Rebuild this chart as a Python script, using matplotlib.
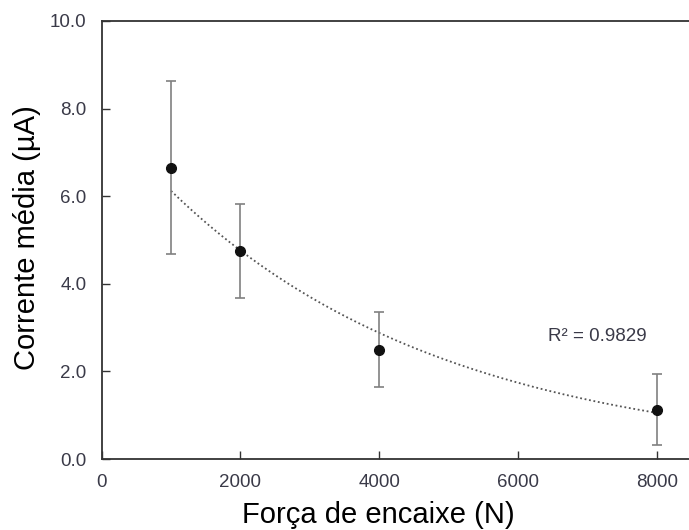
import numpy as np
import matplotlib
matplotlib.use("Agg")
import matplotlib.pyplot as plt

plt.rcParams['font.family'] = ['Liberation Sans', 'DejaVu Sans']

force = [1000, 2000, 4000, 8000]
current = [6.65, 4.75, 2.50, 1.12]
err_low = [4.68, 3.67, 1.65, 0.32]
err_high = [8.62, 5.83, 3.35, 1.93]
r2_label = "R² = 0.9829"
yticks = [0, 2, 4, 6, 8, 10]
xticks = [0, 2000, 4000, 6000, 8000]

x = np.array(force, dtype=float)
y = np.array(current)
lo = y - np.array(err_low)
hi = np.array(err_high) - y

# exponential trendline (least squares on log y)
b, lna = np.polyfit(x, np.log(y), 1)
xt = np.linspace(x.min(), x.max(), 200)
yt = np.exp(lna) * np.exp(b * xt)

W, H = 689, 530
fig = plt.figure(figsize=(W / 100, H / 100), dpi=100)
ax = fig.add_axes([101.7 / W, (H - 459) / H, (726 - 101.7) / W, (459 - 21) / H])

ax.plot(xt, yt, linestyle=(0, (1, 1.5)), color='#555555', linewidth=1.3, zorder=2)
ax.errorbar(x, y, yerr=[lo, hi], fmt='o', color='#111111', markersize=7,
            ecolor='#808080', elinewidth=1.2, capsize=3.5, capthick=1.2, zorder=3)

ax.set_xlim(0, 9000)
ax.set_ylim(0, 10)
ax.set_xticks(xticks)
ax.set_yticks(yticks)
ax.set_yticklabels([f"{v:.1f}" for v in yticks])
ax.tick_params(direction='in', length=6, width=1.0, labelsize=13.5,
               labelcolor='#3a3a48', color='#333333', pad=11)
for s in ax.spines.values():
    s.set_color('#333333')
    s.set_linewidth(1.3)
ax.spines['right'].set_visible(False)

fig.text(378.5 / W, (H - 523) / H, "Força de encaixe (N)", fontsize=21,
         color='black', ha='center', va='baseline')
fig.text(27 / W, 1 - 238 / H, "Corrente média (µA)", fontsize=21,
         color='black', ha='center', va='center', rotation=90)

ax.text(6433, 2.70, r2_label, fontsize=13.5, color='#3a3a48', ha='left', va='baseline')

fig.savefig("out.png", dpi=100)
